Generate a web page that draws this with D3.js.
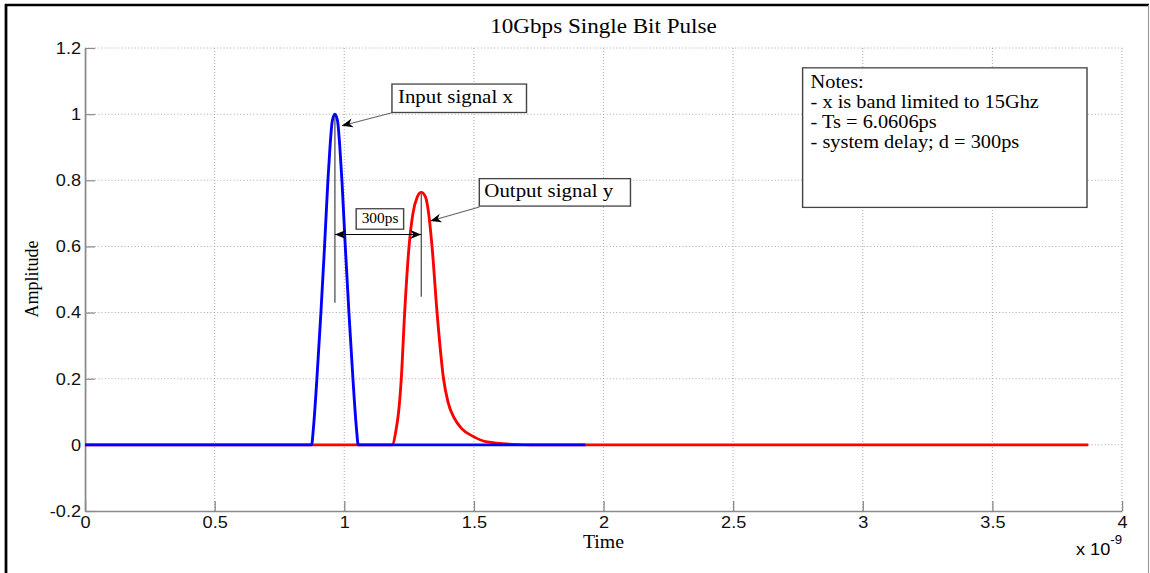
<!DOCTYPE html>
<html lang="en">
<head>
<meta charset="UTF-8">
<title>10Gbps Single Bit Pulse</title>
<script src="https://d3js.org/d3.v7.min.js"></script>
<style>
    body { margin: 0; background: #fff; }
    svg { display: block; }
    .serif { font-family: 'Liberation Serif', 'Times New Roman', serif; fill: #000; }
    .sans { font-family: 'Liberation Sans', Arial, sans-serif; fill: #000; }
</style>
</head>
<body>
<div id="chart"></div>
<script>
    // time is in units of 1e-9 s (see the "x 10^-9" label)
    const xTicks = [0, 0.5, 1, 1.5, 2, 2.5, 3, 3.5, 4];
    const yTicks = [-0.2, 0, 0.2, 0.4, 0.6, 0.8, 1, 1.2];

    // input signal x (blue)
    const inputTime = [0, 0.874, 0.881, 0.8945, 0.910, 0.924, 0.937, 0.945, 0.954, 0.964,
                       0.974, 0.983, 0.991, 1.004, 1.018, 1.0335, 1.047, 1.054, 1.93];
    const inputAmp  = [0, 0, 0.05, 0.2, 0.4, 0.6, 0.8, 0.9, 0.98, 1.0,
                       0.98, 0.9, 0.8, 0.6, 0.4, 0.2, 0.05, 0, 0];

    // output signal y (red)
    const outputTime = [0, 1.184, 1.2008, 1.2097, 1.220, 1.233, 1.250, 1.265, 1.282, 1.297,
                        1.313, 1.3255, 1.3386, 1.358, 1.383, 1.400, 1.425, 1.452, 1.499, 1.551, 1.653, 1.72, 3.87];
    const outputAmp  = [0, 0, 0.05, 0.1, 0.2, 0.4, 0.6, 0.7, 0.75, 0.764,
                        0.75, 0.7, 0.6, 0.4, 0.2, 0.13, 0.08, 0.05, 0.025, 0.009, 0.002, 0, 0];

    const notes = ['Notes:', '- x is band limited to 15Ghz', '- Ts = 6.0606ps', '- system delay; d = 300ps'];
    const peakTimes = [0.964, 1.297];
    const delayLabel = '300ps';

    // the picture is stretched sideways, so draw in a narrower box and stretch it
    const SX = 1.1;
    const W = 1150 / SX, H = 573;

    const svg = d3.select('#chart')
        .append('svg')
        .attr('width', 1150)
        .attr('height', H)
        .attr('viewBox', `0 0 ${W} ${H}`)
        .attr('preserveAspectRatio', 'none');

    const x = d3.scaleLinear().domain([0, 4]).range([85 / SX, 1122 / SX]);
    const y = d3.scaleLinear().domain([-0.2, 1.2]).range([511, 48]);

    // figure frame
    svg.append('line').attr('x1', 5 / SX).attr('x2', 1149 / SX).attr('y1', 5).attr('y2', 5)
        .attr('stroke', '#000').attr('stroke-width', 2.5);
    svg.append('line').attr('x1', 6 / SX).attr('x2', 6 / SX).attr('y1', 4).attr('y2', H)
        .attr('stroke', '#000').attr('stroke-width', 2.5);
    svg.append('line').attr('x1', 1148.5 / SX).attr('x2', 1148.5 / SX).attr('y1', 5).attr('y2', H)
        .attr('stroke', '#999').attr('stroke-width', 1);

    // grid
    const grid = svg.append('g').attr('stroke', '#b0b0b0').attr('stroke-width', 1).attr('stroke-dasharray', '1,2');
    grid.selectAll('.gx').data(xTicks.filter(d => d > 0)).enter().append('line')
        .attr('x1', d => x(d)).attr('x2', d => x(d)).attr('y1', y(1.2)).attr('y2', y(-0.2));
    grid.selectAll('.gy').data(yTicks.filter(d => d > -0.2)).enter().append('line')
        .attr('x1', x(0)).attr('x2', x(4)).attr('y1', d => y(d)).attr('y2', d => y(d));

    // axes
    const xAxis = svg.append('g')
        .attr('transform', `translate(0,${y(-0.2)})`)
        .call(d3.axisBottom(x).tickValues(xTicks).tickFormat(d => String(d))
            .tickSizeInner(-10).tickSizeOuter(0).tickPadding(5));
    const yAxis = svg.append('g')
        .attr('transform', `translate(${x(0)},0)`)
        .call(d3.axisLeft(y).tickValues(yTicks).tickFormat(d => String(d))
            .tickSizeInner(-10 / SX).tickSizeOuter(0).tickPadding(4 / SX));
    [xAxis, yAxis].forEach(a => {
        a.attr('font-family', "'Liberation Sans', Arial, sans-serif").attr('font-size', 16.5);
        a.select('.domain').attr('stroke', '#8a8a8a').attr('stroke-width', 1.6);
        a.selectAll('.tick line').attr('stroke', '#8a8a8a').attr('stroke-width', 1.2);
        a.selectAll('.tick text').attr('fill', '#111');
    });

    // curves
    const line = d3.line()
        .x(d => x(d[0]))
        .y(d => y(d[1]))
        .curve(d3.curveMonotoneX);

    svg.append('path')
        .datum(outputTime.map((t, i) => [t, outputAmp[i]]))
        .attr('d', line).attr('fill', 'none').attr('stroke', '#ff0000').attr('stroke-width', 2.6);
    svg.append('path')
        .datum(inputTime.map((t, i) => [t, inputAmp[i]]))
        .attr('d', line).attr('fill', 'none').attr('stroke', '#0000ff').attr('stroke-width', 2.6);

    // titles
    svg.append('text').attr('class', 'serif')
        .attr('x', (x(0) + x(4)) / 2).attr('y', 33)
        .attr('text-anchor', 'middle').attr('font-size', 21)
        .text('10Gbps Single Bit Pulse');
    svg.append('text').attr('class', 'serif')
        .attr('x', (x(0) + x(4)) / 2).attr('y', 548)
        .attr('text-anchor', 'middle').attr('font-size', 18)
        .text('Time');
    svg.append('text').attr('class', 'serif')
        .attr('transform', `translate(${38 / SX},${279}) rotate(-90)`)
        .attr('text-anchor', 'middle').attr('font-size', 18)
        .text('Amplitude');
    const expo = svg.append('text').attr('class', 'sans')
        .attr('x', 1076 / SX).attr('y', 555).attr('font-size', 16.5);
    expo.append('tspan').text('x 10');
    expo.append('tspan').attr('dy', -11).attr('font-size', 12).text('-9');

    // annotations
    const ann = svg.append('g');
    const sx = t => x(t) * SX; // screen x

    function arrowHead(tip, from, color) {
        const dx = tip[0] - from[0], dy = tip[1] - from[1];
        const len = Math.hypot(dx, dy), ux = dx / len, uy = dy / len;
        const L = 11, hw = 4.5;
        const bx = tip[0] - ux * L, by = tip[1] - uy * L;
        const nx = tip[0] - ux * L * 0.7, ny = tip[1] - uy * L * 0.7;
        const pts = [tip, [bx - uy * hw, by + ux * hw], [nx, ny], [bx + uy * hw, by - ux * hw]];
        ann.append('path')
            .attr('d', 'M' + pts.map(p => `${p[0] / SX},${p[1]}`).join('L') + 'Z')
            .attr('fill', color);
    }

    function arrow(from, tip) {
        ann.append('line')
            .attr('x1', from[0] / SX).attr('y1', from[1]).attr('x2', tip[0] / SX).attr('y2', tip[1])
            .attr('stroke', '#666').attr('stroke-width', 1);
        arrowHead(tip, from, '#000');
    }

    function textBox(t0, t1, a0, a1, lines, size, dx, dy, step) {
        ann.append('rect')
            .attr('x', x(t0)).attr('y', y(a0))
            .attr('width', x(t1) - x(t0)).attr('height', y(a1) - y(a0))
            .attr('fill', '#fff').attr('stroke', '#444').attr('stroke-width', 1.3);
        ann.selectAll(null).data(lines).enter().append('text')
            .attr('class', 'serif')
            .attr('x', x(t0) + dx / SX)
            .attr('y', (d, i) => y(a0) + dy + i * step)
            .attr('font-size', size)
            .text(d => d);
    }

    // peak markers and the delay arrow
    ann.append('line').attr('x1', x(peakTimes[0])).attr('x2', x(peakTimes[0]))
        .attr('y1', y(0.995)).attr('y2', y(0.43)).attr('stroke', '#333').attr('stroke-width', 1);
    ann.append('line').attr('x1', x(peakTimes[1])).attr('x2', x(peakTimes[1]))
        .attr('y1', y(0.76)).attr('y2', y(0.448)).attr('stroke', '#333').attr('stroke-width', 1);
    const ay = y(0.636);
    ann.append('line').attr('x1', x(peakTimes[0])).attr('x2', x(peakTimes[1]))
        .attr('y1', ay).attr('y2', ay).attr('stroke', '#000').attr('stroke-width', 1);
    arrowHead([sx(peakTimes[0]), ay], [sx(peakTimes[1]), ay], '#000');
    arrowHead([sx(peakTimes[1]), ay], [sx(peakTimes[0]), ay], '#000');

    textBox(1.046, 1.229, 0.714, 0.652, [delayLabel], 14, 5.5, 14.6, 0);

    arrow([sx(1.184), y(1.004)], [sx(0.991), y(0.965)]);
    textBox(1.184, 1.703, 1.091, 1.005, ['Input signal x'], 19, 6, 19.4, 0);

    arrow([sx(1.521), y(0.719)], [sx(1.332), y(0.677)]);
    textBox(1.521, 2.104, 0.805, 0.722, ['Output signal y'], 19, 5, 18.7, 0);

    textBox(2.768, 3.865, 1.140, 0.718, notes, 18.5, 8, 20, 20);
</script>
</body>
</html>
